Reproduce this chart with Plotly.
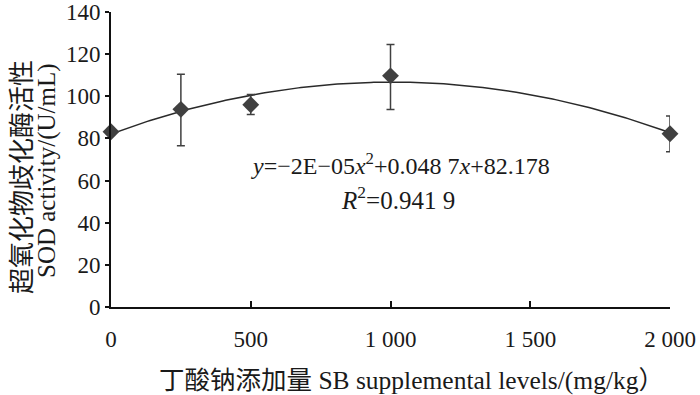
import numpy as np
import plotly.graph_objects as go

# Data
levels = [0, 250, 500, 1000, 2000]
sod = [83.2, 93.8, 96.0, 109.7, 82.2]
err_plus = [0.0, 16.7, 4.8, 14.9, 8.5]
err_minus = [0.0, 17.3, 4.7, 16.0, 8.5]
x_ticks = [0, 500, 1000, 1500, 2000]
x_tick_labels = ["0", "500", "1 000", "1 500", "2 000"]
y_ticks = [0, 20, 40, 60, 80, 100, 120, 140]

# Quadratic trend line fitted to the data
coef = np.polyfit(levels, sod, 2)
xs = np.linspace(0, 2000, 201)
ys = np.polyval(coef, xs)

SERIF = "Liberation Serif, Times New Roman, serif"
CJK = "Liberation Serif, Noto Sans CJK SC, serif"
DARK = "#404040"

fig = go.Figure()
fig.add_trace(go.Scatter(x=xs, y=ys, mode="lines",
                         line=dict(color="#2a2a2a", width=1.5),
                         hoverinfo="skip", showlegend=False, cliponaxis=False))
fig.add_trace(go.Scatter(
    x=levels, y=sod, mode="markers",
    marker=dict(symbol="diamond", size=13, color=DARK),
    error_y=dict(type="data", symmetric=False, array=err_plus, arrayminus=err_minus,
                 color=DARK, thickness=1.5, width=4),
    showlegend=False, cliponaxis=False))

fig.update_layout(
    width=700, height=395,
    margin=dict(l=111, r=30, t=12, b=88),
    plot_bgcolor="white", paper_bgcolor="white",
    font=dict(family=SERIF, size=22, color="#1a1a1a"),
    xaxis=dict(range=[0, 2000], tickvals=x_ticks, ticktext=x_tick_labels,
               ticks="inside", ticklen=6, tickwidth=1.5, tickcolor="#111",
               showline=True, linecolor="#111", linewidth=2, automargin=False,
               showgrid=False, zeroline=False, ticklabelstandoff=10,
               ticklabeloverflow="allow",
               tickfont=dict(family=SERIF, size=23)),
    yaxis=dict(range=[0, 140], tickvals=y_ticks, automargin=False,
               ticks="outside", ticklen=4, tickwidth=1.5, tickcolor="#111",
               showline=True, linecolor="#111", linewidth=2,
               showgrid=False, zeroline=False, ticklabeloverflow="allow",
               tickfont=dict(family=SERIF, size=23)),
)

# Y-axis title (two lines)
fig.add_annotation(text="超氧化物歧化酶活性", xref="paper", yref="paper",
                   x=0, y=0.441, xshift=-88, xanchor="center", yanchor="middle",
                   textangle=-90, showarrow=False,
                   font=dict(family=CJK, size=26, color="#1a1a1a"))
fig.add_annotation(text="SOD activity/(U/mL)", xref="paper", yref="paper",
                   x=0, y=0.461, xshift=-64, xanchor="center", yanchor="middle",
                   textangle=-90, showarrow=False,
                   font=dict(family=SERIF, size=25, color="#1a1a1a"))
# X-axis title
fig.add_annotation(text="丁酸钠添加量 SB supplemental levels/(mg/kg）",
                   xref="paper", yref="paper", x=0.537, y=0, yshift=-73,
                   xanchor="center", yanchor="middle", showarrow=False,
                   font=dict(family=CJK, size=25.5, color="#1a1a1a"))
# Equation and R²
fig.add_annotation(text="<i>y</i>=−2E−05<i>x</i><sup>2</sup>+0.048 7<i>x</i>+82.178",
                   xref="x", yref="y", x=1034, y=67.9, xanchor="center", yanchor="middle",
                   showarrow=False, font=dict(family=SERIF, size=24, color="#1a1a1a"))
fig.add_annotation(text="<i>R</i><sup>2</sup>=0.941 9",
                   xref="x", yref="y", x=1026, y=51.6, xanchor="center", yanchor="middle",
                   showarrow=False, font=dict(family=SERIF, size=25, color="#1a1a1a"))

fig.write_html("out.html", config={"displayModeBar": False},
               post_script="document.body.style.margin='0';document.body.style.overflow='hidden';")
